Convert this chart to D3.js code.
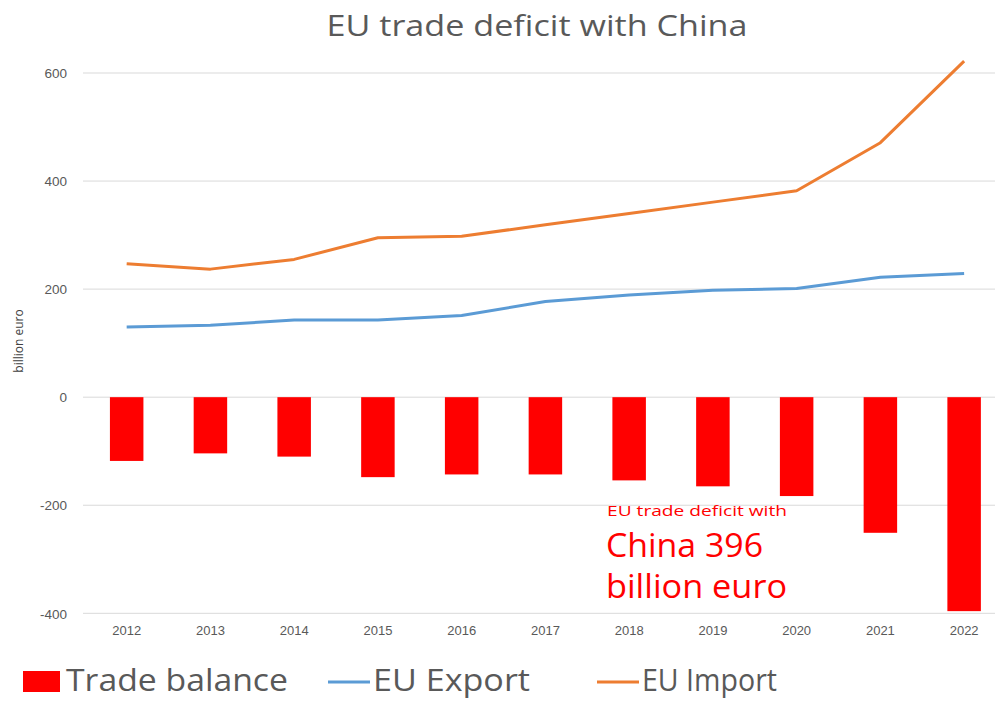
<!DOCTYPE html>
<html>
<head>
<meta charset="utf-8">
<script src="https://cdn.jsdelivr.net/npm/d3@7"></script>
<style>
  body { margin: 0; background: #fff; }
  svg { display: block; font-family: "Open Sans", sans-serif; }
</style>
</head>
<body>
<svg width="995" height="702"></svg>
<script>
// data
var years = ["2012","2013","2014","2015","2016","2017","2018","2019","2020","2021","2022"];
var balance = [-118, -104, -110, -148, -143, -143, -154, -165, -183, -251, -396];
var exports = [130, 133, 143, 143, 151, 177, 189, 198, 201, 222, 229];
var imports = [247, 237, 255, 295, 298, 319, 340, 361, 382, 471, 622];
var yTicks = [-400, -200, 0, 200, 400, 600];

var svg = d3.select("svg");

var x = d3.scaleBand().domain(years).range([84.8, 1006]).paddingInner(0.6).paddingOuter(0.3);
var y = d3.scaleLinear().domain([-400, 600]).range([613.3, 73]);

// grid
svg.append("g").selectAll("line")
	.data(yTicks)
	.enter()
	.append("line")
	.attr("x1", 83).attr("x2", 1006)
	.attr("y1", d => y(d)).attr("y2", d => y(d))
	.style("stroke", "#d9d9d9")
	.style("stroke-width", 1);

// y axis labels (plain hyphen like the original)
var yAxis = d3.axisLeft(y).tickValues(yTicks).tickSize(0).tickPadding(0).tickFormat(d => String(d));
var yg = svg.append("g").attr("transform", "translate(67,0)").call(yAxis);
yg.select(".domain").remove();
yg.selectAll("text").style("font-size", "13.5px").style("fill", "#595959").attr("dy", "0.35em");

// x axis labels
var xAxis = d3.axisBottom(x).tickSize(0).tickPadding(0);
var xg = svg.append("g").attr("transform", "translate(0,626)").call(xAxis);
xg.select(".domain").remove();
xg.selectAll("text").style("font-size", "13px").style("fill", "#595959").attr("dy", "0.71em");

// bars
svg.append("g").selectAll("rect")
	.data(balance)
	.enter()
	.append("rect")
	.attr("x", (d, i) => x(years[i]))
	.attr("width", x.bandwidth())
	.attr("y", d => y(Math.max(0, d)))
	.attr("height", d => Math.abs(y(d) - y(0)))
	.style("fill", "#ff0000");

var line = d3.line()
	.x((d, i) => x(years[i]) + x.bandwidth() / 2)
	.y(d => y(d));

svg.append("path").datum(exports)
	.attr("d", line)
	.style("fill", "none").style("stroke", "#5b9bd5").style("stroke-width", 3).style("stroke-linejoin", "round");
svg.append("path").datum(imports)
	.attr("d", line)
	.style("fill", "none").style("stroke", "#ed7d31").style("stroke-width", 3).style("stroke-linejoin", "round");

// title
svg.append("text")
	.attr("x", 537).attr("y", 36)
	.attr("text-anchor", "middle")
	.attr("textLength", 421).attr("lengthAdjust", "spacingAndGlyphs")
	.style("font-size", "30px").style("fill", "#595959")
	.text("EU trade deficit with China");

// y title
svg.append("text")
	.attr("transform", "translate(23,341) rotate(-90)")
	.attr("text-anchor", "middle")
	.style("font-size", "12px").style("fill", "#404040")
	.text("billion euro");

// annotation
svg.append("text").attr("x", 607).attr("y", 516)
	.attr("textLength", 180).attr("lengthAdjust", "spacingAndGlyphs")
	.style("font-size", "15px").style("fill", "#ff0000")
	.text("EU trade deficit with");
svg.append("text").attr("x", 606).attr("y", 557)
	.attr("textLength", 157).attr("lengthAdjust", "spacingAndGlyphs")
	.style("font-size", "32px").style("fill", "#ff0000")
	.text("China 396");
svg.append("text").attr("x", 606).attr("y", 598)
	.attr("textLength", 181).attr("lengthAdjust", "spacingAndGlyphs")
	.style("font-size", "32px").style("fill", "#ff0000")
	.text("billion euro");

// legend
var legend = svg.append("g");
legend.append("rect").attr("x", 23).attr("y", 671).attr("width", 37).attr("height", 21).style("fill", "#ff0000");
legend.append("text").attr("x", 66).attr("y", 691)
	.attr("textLength", 222).attr("lengthAdjust", "spacingAndGlyphs")
	.style("font-size", "31px").style("fill", "#595959").text("Trade balance");
legend.append("line").attr("x1", 328).attr("x2", 370).attr("y1", 682).attr("y2", 682)
	.style("stroke", "#5b9bd5").style("stroke-width", 3);
legend.append("text").attr("x", 373).attr("y", 691)
	.attr("textLength", 157).attr("lengthAdjust", "spacingAndGlyphs")
	.style("font-size", "31px").style("fill", "#595959").text("EU Export");
legend.append("line").attr("x1", 597).attr("x2", 639).attr("y1", 682).attr("y2", 682)
	.style("stroke", "#ed7d31").style("stroke-width", 3);
legend.append("text").attr("x", 642).attr("y", 691)
	.attr("textLength", 135).attr("lengthAdjust", "spacingAndGlyphs")
	.style("font-size", "31px").style("fill", "#595959").text("EU Import");
</script>
</body>
</html>
